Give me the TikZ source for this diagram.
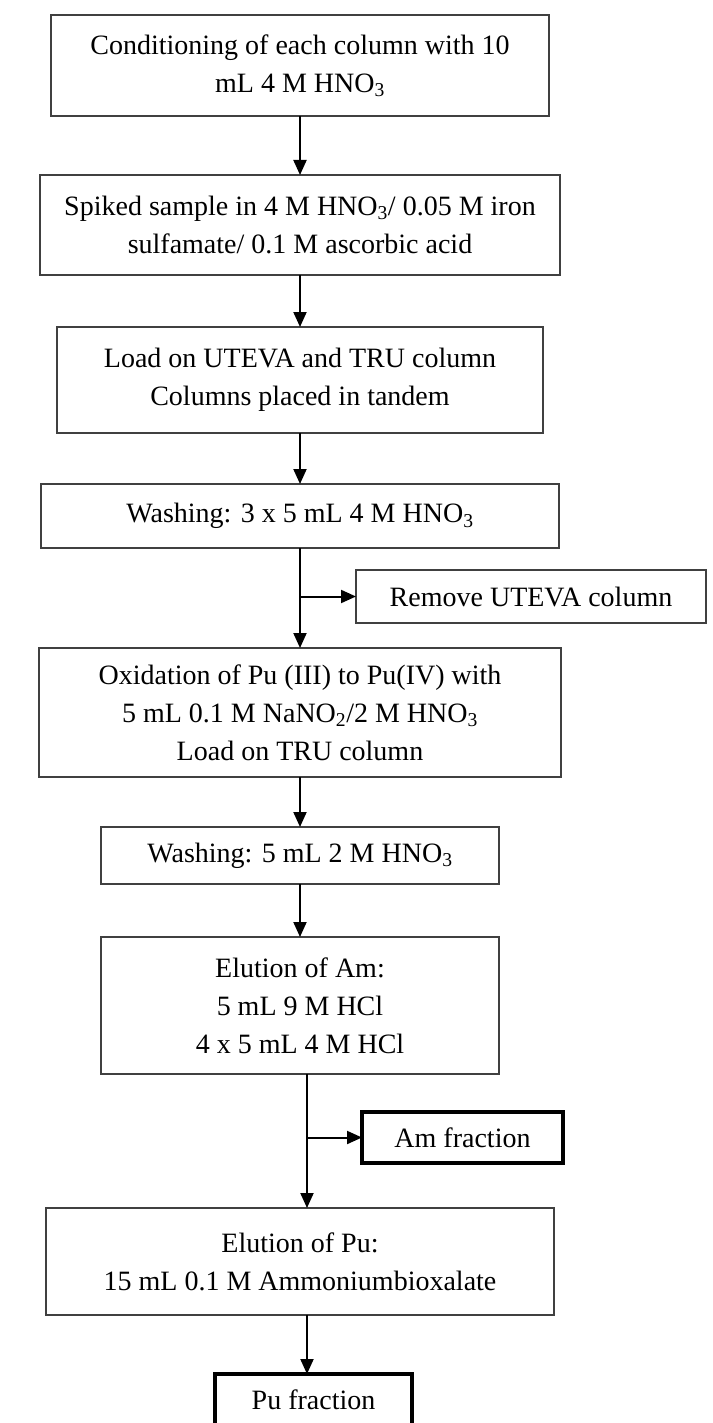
\documentclass[tikz,border=0pt]{standalone}
\usepackage{fontspec}
\setmainfont{Liberation Serif}
\usetikzlibrary{positioning,arrows.meta}

\begin{document}
\begin{tikzpicture}[x=1pt,y=-1pt,>={Triangle[width=13pt,length=15pt]},line width=2pt,
    stage node/.style={rectangle,draw=black!75,line width=2pt,outer sep=0pt,align=center,inner sep=2pt,font=\fontsize{28}{38}\selectfont},
    end node/.style={stage node,draw=black,line width=3.5pt}]

            \useasboundingbox (0,0) rectangle (712,1423);

            \node[stage node, minimum width=498pt, minimum height=101pt] (cond) at (300,65.5) {Conditioning of each column with 10\\mL 4 M HNO\textsubscript{3}};
            \node[stage node, minimum width=520pt, minimum height=100pt] (spiked) [below=59pt of cond] {Spiked sample in 4 M HNO\textsubscript{3}/ 0.05 M iron\\sulfamate/ 0.1 M ascorbic acid};
            \node[stage node, minimum width=486pt, minimum height=106pt] (load) [below=52pt of spiked] {Load on UTEVA and TRU column\\Columns placed in tandem};
            \node[stage node, minimum width=518pt, minimum height=64pt] (wash1) [below=51pt of load] {Washing: 3 x 5 mL 4 M HNO\textsubscript{3}};
            \node[stage node, minimum width=522pt, minimum height=129pt] (oxid) [below=100pt of wash1] {Oxidation of Pu (III) to Pu(IV) with\\5 mL 0.1 M NaNO\textsubscript{2}/2 M HNO\textsubscript{3}\\Load on TRU column};
            \node[stage node, minimum width=398pt, minimum height=57pt] (wash2) [below=50pt of oxid] {Washing: 5 mL 2 M HNO\textsubscript{3}};
            \node[stage node, minimum width=398pt, minimum height=137pt] (elam) [below=53pt of wash2] {Elution of Am:\\5 mL 9 M HCl\\4 x 5 mL 4 M HCl};
            \node[stage node, minimum width=508pt, minimum height=107pt] (elpu) [below=134pt of elam] {Elution of Pu:\\15 mL 0.1 M Ammoniumbioxalate};
            \node[end node, minimum width=197pt, minimum height=52pt] (pu) [below=59pt of elpu, xshift=13.5pt] {Pu fraction};

            % side outputs
            \node[stage node, minimum width=350pt, minimum height=53pt] (remove) at (531,596.5) {Remove UTEVA column};
            \node[end node, minimum width=201pt, minimum height=51pt] (am) at (462.5,1137.5) {Am fraction};

            \coordinate (split1) at (wash1.south |- remove.west);
            \coordinate (split2) at ([xshift=7pt]elam.south |- am.west);

            \draw[->] (cond) -- (spiked);
            \draw[->] (spiked) -- (load);
            \draw[->] (load) -- (wash1);
            \draw[->] (wash1) -- (oxid);
            \draw[->] (split1) -- (remove);
            \draw[->] (oxid) -- (wash2);
            \draw[->] (wash2) -- (elam);
            \draw[->] ([xshift=7pt]elam.south) -- ([xshift=7pt]elam.south |- elpu.north);
            \draw[->] (split2) -- (am);
            \draw[->] ([xshift=7pt]elpu.south) -- ([xshift=7pt]elpu.south |- pu.north);
            % \draw[->] (elpu) -- (pu);

            ;
        \end{tikzpicture}
\end{document}
